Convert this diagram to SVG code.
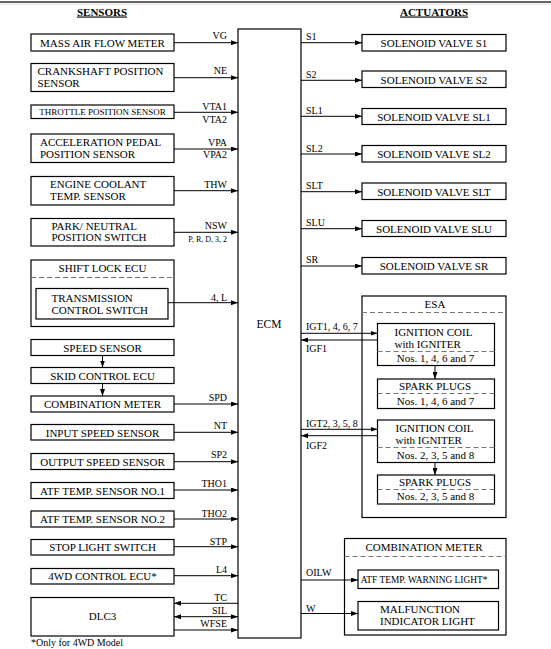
<svg xmlns="http://www.w3.org/2000/svg" width="551" height="649" viewBox="0 0 551 649" font-family="'Liberation Serif', 'DejaVu Serif', serif">
<style>
text{font-family:'Liberation Serif','DejaVu Serif',serif;fill:#000}
.bx{fill:#fff;stroke:#000;stroke-width:1.2}
.dash{stroke:#777;stroke-width:1;stroke-dasharray:5,3;fill:none}
.t{font-size:11px}
.c{text-anchor:middle}
.s{font-size:10px}
.e{text-anchor:end}
.ln{stroke:#000;stroke-width:1;fill:none}
.ttl{font-size:11px;font-weight:bold;text-decoration:underline;text-anchor:middle}
</style>
<defs>
<marker id="ah" markerUnits="userSpaceOnUse" markerWidth="7" markerHeight="5" refX="7" refY="2.5" orient="auto-start-reverse">
<path d="M0,0 L7,2.5 L0,5 z" fill="#000"/>
</marker>
</defs>
<rect width="551" height="649" fill="#fff"/>
<line x1="0" y1="2" x2="551" y2="2" stroke="#333" stroke-width="1.3"/>
<line x1="0" y1="4" x2="551" y2="4" stroke="#ddd" stroke-width="1"/>
<text class="ttl" x="102" y="15.5">SENSORS</text>
<text class="ttl" x="434" y="15.5">ACTUATORS</text>

<g id="ecm"><rect class="bx" x="238" y="29" width="63" height="609"/><text x="269" y="328" style="font-size:11.5px" class="c">ECM</text></g>

<g id="maf"><rect class="bx" x="31" y="34" width="143" height="17"/><text class="t c" x="102.5" y="46.5">MASS AIR FLOW METER</text></g>
<g id="crank"><rect class="bx" x="31" y="63.5" width="143" height="28"/><text class="t" x="37.5" y="75">CRANKSHAFT POSITION</text><text class="t" x="37.5" y="87">SENSOR</text></g>
<g id="throttle"><rect class="bx" x="31" y="105" width="143" height="13.5"/><text class="c" style="font-size:9px" x="102.5" y="115.3">THROTTLE POSITION SENSOR</text></g>
<g id="accel"><rect class="bx" x="31" y="134" width="143" height="28.5"/><text class="t" x="40" y="145.5">ACCELERATION PEDAL</text><text class="t" x="40" y="157.5">POSITION SENSOR</text></g>
<g id="ect"><rect class="bx" x="31" y="176.5" width="143" height="28.5"/><text class="t" x="50" y="188">ENGINE COOLANT</text><text class="t" x="50" y="199.5">TEMP. SENSOR</text></g>
<g id="pnp"><rect class="bx" x="31" y="218.5" width="143" height="27.5"/><text class="t" x="51.5" y="229.5">PARK/ NEUTRAL</text><text class="t" x="51.5" y="241">POSITION SWITCH</text></g>
<g id="shiftlock"><rect class="bx" x="31" y="260" width="143" height="66.5"/><line class="dash" x1="31" y1="277.5" x2="174" y2="277.5"/><text class="t c" x="102.5" y="272">SHIFT LOCK ECU</text></g>
<g id="tcs"><rect class="bx" x="36" y="288.5" width="132" height="30.5"/><text class="t" x="51.5" y="301.5">TRANSMISSION</text><text class="t" x="51.5" y="313.5">CONTROL SWITCH</text></g>
<g id="speed"><rect class="bx" x="31" y="339.5" width="143" height="16"/><text class="t c" x="102.5" y="351.5">SPEED SENSOR</text></g>
<g id="skid"><rect class="bx" x="31" y="367.5" width="143" height="16"/><text class="t c" x="102.5" y="379.5">SKID CONTROL ECU</text></g>
<g id="combo1"><rect class="bx" x="31" y="396" width="143" height="16"/><text class="t c" x="102.5" y="408">COMBINATION METER</text></g>
<g id="inspd"><rect class="bx" x="31" y="424.5" width="143" height="15.5"/><text class="t c" x="102.5" y="436.5">INPUT SPEED SENSOR</text></g>
<g id="outspd"><rect class="bx" x="31" y="453.5" width="143" height="16"/><text class="t c" x="102.5" y="465.5">OUTPUT SPEED SENSOR</text></g>
<g id="atf1"><rect class="bx" x="31" y="482.5" width="143" height="16"/><text class="t c" x="102.5" y="494.5">ATF TEMP. SENSOR NO.1</text></g>
<g id="atf2"><rect class="bx" x="31" y="511" width="143" height="16"/><text class="t c" x="102.5" y="523">ATF TEMP. SENSOR NO.2</text></g>
<g id="stop"><rect class="bx" x="31" y="539.5" width="143" height="15.5"/><text class="t c" x="102.5" y="551">STOP LIGHT SWITCH</text></g>
<g id="fwd"><rect class="bx" x="31" y="568.5" width="143" height="15.5"/><text class="t c" x="102.5" y="580">4WD CONTROL ECU*</text></g>
<g id="dlc3"><rect class="bx" x="31" y="597.5" width="143" height="38.5"/><text class="t c" x="102.5" y="620">DLC3</text></g>

<g id="sv-s1"><rect class="bx" x="362" y="34.5" width="144" height="16.5"/><text class="t c" x="434" y="47">SOLENOID VALVE S1</text></g>
<g id="sv-s2"><rect class="bx" x="362" y="71" width="144" height="16.5"/><text class="t c" x="434" y="83.5">SOLENOID VALVE S2</text></g>
<g id="sv-sl1"><rect class="bx" x="362" y="108.5" width="144" height="16"/><text class="t c" x="434" y="120.5">SOLENOID VALVE SL1</text></g>
<g id="sv-sl2"><rect class="bx" x="362" y="145.5" width="144" height="16.5"/><text class="t c" x="434" y="158">SOLENOID VALVE SL2</text></g>
<g id="sv-slt"><rect class="bx" x="362" y="183" width="144" height="16.5"/><text class="t c" x="434" y="195.5">SOLENOID VALVE SLT</text></g>
<g id="sv-slu"><rect class="bx" x="362" y="220.5" width="144" height="16"/><text class="t c" x="434" y="232.5">SOLENOID VALVE SLU</text></g>
<g id="sv-sr"><rect class="bx" x="362" y="257.5" width="144" height="16.5"/><text class="t c" x="434" y="270">SOLENOID VALVE SR</text></g>

<g id="esa"><rect class="bx" x="362" y="296" width="144" height="221.5"/><line class="dash" x1="362" y1="312.5" x2="506" y2="312.5"/><text class="t c" x="435" y="308">ESA</text></g>
<g id="coil1"><rect class="bx" x="377.5" y="323.5" width="117" height="42"/><line class="dash" x1="377.5" y1="351.5" x2="494.5" y2="351.5"/><text class="t" x="394.5" y="336">IGNITION COIL</text><text class="t" x="394.5" y="347.5">with IGNITER</text><text class="t c" x="435.5" y="362">Nos. 1, 4, 6 and 7</text></g>
<g id="plug1"><rect class="bx" x="377.5" y="379" width="117" height="29.5"/><line class="dash" x1="377.5" y1="393.5" x2="494.5" y2="393.5"/><text class="t c" x="435" y="390">SPARK PLUGS</text><text class="t c" x="435.5" y="404.5">Nos. 1, 4, 6 and 7</text></g>
<g id="coil2"><rect class="bx" x="377.5" y="420" width="117" height="42.5"/><line class="dash" x1="377.5" y1="447.5" x2="494.5" y2="447.5"/><text class="t" x="395.5" y="432">IGNITION COIL</text><text class="t" x="395.5" y="444">with IGNITER</text><text class="t c" x="435.5" y="458.5">Nos. 2, 3, 5 and 8</text></g>
<g id="plug2"><rect class="bx" x="377.5" y="475" width="117" height="29"/><line class="dash" x1="377.5" y1="489.5" x2="494.5" y2="489.5"/><text class="t c" x="435" y="486">SPARK PLUGS</text><text class="t c" x="435.5" y="500">Nos. 2, 3, 5 and 8</text></g>

<g id="combo2"><rect class="bx" x="344.5" y="538.5" width="161.5" height="96.5"/><line class="dash" x1="344.5" y1="556.5" x2="506" y2="556.5"/><text class="t c" x="424" y="551">COMBINATION METER</text></g>
<g id="atfwarn"><rect class="bx" x="358" y="570" width="140.5" height="18.5"/><text class="c" style="font-size:9.4px" x="424" y="582.5">ATF TEMP. WARNING LIGHT*</text></g>
<g id="mil"><rect class="bx" x="358" y="601.5" width="140.5" height="28.5"/><text class="t" x="380" y="612.5">MALFUNCTION</text><text class="t" x="380" y="624.5">INDICATOR LIGHT</text></g>

<g id="connectors">
<g marker-end="url(#ah)" class="ln">
<line x1="174" y1="42.7" x2="238" y2="42.7"/>
<line x1="174" y1="77.7" x2="238" y2="77.7"/>
<line x1="174" y1="112.3" x2="238" y2="112.3"/>
<line x1="174" y1="149" x2="238" y2="149"/>
<line x1="174" y1="190.7" x2="238" y2="190.7"/>
<line x1="174" y1="232.3" x2="238" y2="232.3"/>
<line x1="168" y1="302.7" x2="238" y2="302.7"/>
<line x1="102.5" y1="355.5" x2="102.5" y2="367.5"/>
<line x1="102.5" y1="383.5" x2="102.5" y2="396"/>
<line x1="174" y1="404" x2="238" y2="404"/>
<line x1="174" y1="432.3" x2="238" y2="432.3"/>
<line x1="174" y1="461.7" x2="238" y2="461.7"/>
<line x1="174" y1="490" x2="238" y2="490"/>
<line x1="174" y1="519" x2="238" y2="519"/>
<line x1="174" y1="546.7" x2="238" y2="546.7"/>
<line x1="174" y1="575.7" x2="238" y2="575.7"/>
<line x1="238" y1="603.3" x2="174" y2="603.3"/>
<line x1="174" y1="616.7" x2="238" y2="616.7" marker-start="url(#ah)"/>
<line x1="174" y1="630" x2="238" y2="630"/>
<line x1="301" y1="42.7" x2="362" y2="42.7"/>
<line x1="301" y1="80.3" x2="362" y2="80.3"/>
<line x1="301" y1="116.3" x2="362" y2="116.3"/>
<line x1="301" y1="154" x2="362" y2="154"/>
<line x1="301" y1="191.7" x2="362" y2="191.7"/>
<line x1="301" y1="228.7" x2="362" y2="228.7"/>
<line x1="301" y1="266" x2="362" y2="266"/>
<line x1="301" y1="333.3" x2="377.5" y2="333.3"/>
<line x1="377.5" y1="340" x2="301" y2="340"/>
<line x1="435" y1="365.5" x2="435" y2="379"/>
<line x1="301" y1="429.3" x2="377.5" y2="429.3"/>
<line x1="377.5" y1="435.7" x2="301" y2="435.7"/>
<line x1="435" y1="462.5" x2="435" y2="475"/>
<line x1="301" y1="580" x2="358" y2="580"/>
<line x1="301" y1="613.5" x2="358" y2="613.5"/>
</g>
<g class="s">
<text class="e" x="227" y="38.5">VG</text>
<text class="e" x="227" y="74">NE</text>
<text class="e" x="227" y="110">VTA1</text>
<text class="e" x="227" y="123">VTA2</text>
<text class="e" x="227" y="145.5">VPA</text>
<text class="e" x="227" y="157.5">VPA2</text>
<text class="e" x="227" y="188">THW</text>
<text class="e" x="227" y="228.5">NSW</text>
<text class="e" x="227" y="241.5" style="font-size:8px">P, R, D, 3, 2</text>
<text class="e" x="227" y="300.5">4, L</text>
<text class="e" x="227" y="400.5">SPD</text>
<text class="e" x="227" y="428.5">NT</text>
<text class="e" x="227" y="458">SP2</text>
<text class="e" x="227" y="487">THO1</text>
<text class="e" x="227" y="516.5">THO2</text>
<text class="e" x="227" y="544.5">STP</text>
<text class="e" x="227" y="573">L4</text>
<text class="e" x="227" y="600.5">TC</text>
<text class="e" x="227" y="614">SIL</text>
<text class="e" x="227" y="627">WFSE</text>
<text x="306" y="39.5">S1</text>
<text x="306" y="77.5">S2</text>
<text x="306" y="113.5">SL1</text>
<text x="306" y="151.5">SL2</text>
<text x="306" y="188.5">SLT</text>
<text x="306" y="225.5">SLU</text>
<text x="306" y="263">SR</text>
<text x="306" y="329.5">IGT1, 4, 6, 7</text>
<text x="306" y="352">IGF1</text>
<text x="306" y="426.5">IGT2, 3, 5, 8</text>
<text x="306" y="449">IGF2</text>
<text x="306" y="576">OILW</text>
<text x="306" y="611.5">W</text>
</g>
</g>
<text class="t" x="31" y="646" style="font-size:10px">*Only for 4WD Model</text>
</svg>
